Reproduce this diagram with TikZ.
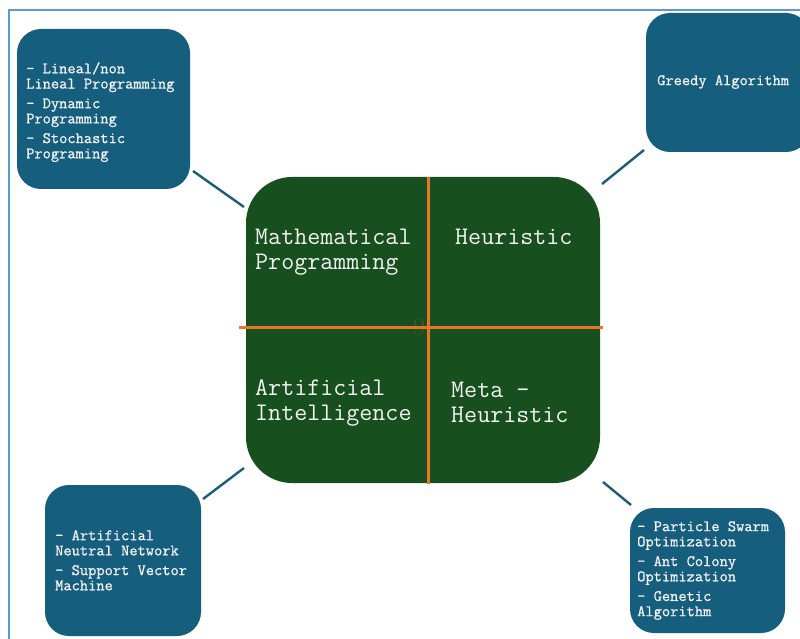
\documentclass[tikz,border=0pt]{standalone}
\usepackage{fontspec}
\newfontfamily\heavymono[FakeBold=0.9]{Latin Modern Mono}
\definecolor{teal}{RGB}{22,94,125}
\definecolor{dgreen}{RGB}{23,80,30}
\definecolor{orng}{RGB}{233,118,40}
\definecolor{frameblue}{RGB}{91,155,213}
\definecolor{linkc}{RGB}{30,92,122}
\definecolor{txt}{RGB}{242,242,242}
\tikzset{
  tealbox/.style={fill=teal, draw=none, rounded corners=24pt, inner sep=0pt},
  greenbox/.style={fill=dgreen, draw=none, rounded corners=46pt, inner sep=0pt},
  smalltext/.style={text=txt, align=left, inner sep=0pt, anchor=north west,
    font=\heavymono\fontsize{16pt}{15.2pt}\selectfont},
  bigtext/.style={text=txt, align=left, inner sep=0pt, anchor=north west,
    font=\ttfamily\fontsize{25.3pt}{25pt}\selectfont},
  link/.style={draw=linkc, line width=2.4pt},
  divider/.style={draw=orng, line width=3pt}
}
\begin{document}
\begin{tikzpicture}[x=1pt,y=-1pt]
\useasboundingbox (0,0) rectangle (800,639);
\clip (0,0) rectangle (800,639);
\fill[white] (0,0) rectangle (800,639);
% frame
\draw[frameblue, line width=2.4pt] (9,650) -- (9,10) -- (810,10);
% boxes
\node[tealbox, minimum width=173pt, minimum height=160pt] (tl) at (103.5,109) {};
\node[tealbox, minimum width=164pt, minimum height=139pt] (tr) at (728,82.5) {};
\node[tealbox, minimum width=156pt, minimum height=151pt] (bl) at (123,560.5) {};
\node[tealbox, minimum width=155pt, minimum height=125pt] (br) at (707.5,570.5) {};
\node[greenbox, minimum width=354pt, minimum height=306pt] (c) at (423,330) {};
% faint mark
\node[text=dgreen!80!orng, font=\fontsize{26pt}{26pt}\selectfont, inner sep=0pt] (mark) at (419,327) {9};
% dividers
\coordinate (vt) at (428,177);
\coordinate (vb) at (428,484);
\coordinate (hl) at (239,327);
\coordinate (hr) at (603,327);
\draw[divider] (vt) -- (vb);
\draw[divider] (hl) -- (hr);
% connectors
\coordinate (a1) at (193,171); \coordinate (a2) at (244,207);
\coordinate (b1) at (644,150); \coordinate (b2) at (602,184);
\coordinate (c1) at (244,468); \coordinate (c2) at (203,499);
\coordinate (d1) at (603,482); \coordinate (d2) at (631,505);
\draw[link] (a1) -- (a2);
\draw[link] (b1) -- (b2);
\draw[link] (c1) -- (c2);
\draw[link] (d1) -- (d2);
% texts
\node[smalltext] (tlt) at (26,62) {- Lineal/non\\Lineal Programming\\[4.5pt]- Dynamic\\Programming\\[4.5pt]- Stochastic\\Programing};
\node[smalltext, anchor=west] (trt) at (657,82) {Greedy Algorithm};
\node[smalltext] (blt) at (55,530) {- Artificial\\Neutral Network\\[4.5pt]- Support Vector\\Machine};
\node[smalltext] (brt) at (637,521) {- Particle Swarm\\Optimization\\[4.5pt]- Ant Colony\\Optimization\\[4.5pt]- Genetic\\Algorithm};
\node[bigtext] (mp) at (255,229) {Mathematical\\Programming};
\node[bigtext] (he) at (455,229) {Heuristic};
\node[bigtext] (ai) at (255,379) {Artificial\\Intelligence};
\node[bigtext] (mh) at (451,382) {Meta –\\Heuristic};
\end{tikzpicture}
\end{document}
